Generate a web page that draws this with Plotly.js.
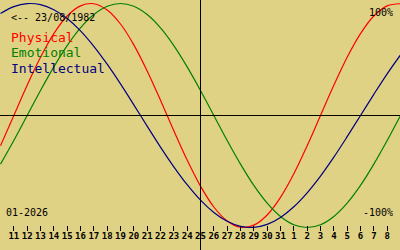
<!DOCTYPE html>
<html>
<head>
<meta charset="utf-8">
<script src="https://cdn.plot.ly/plotly-3.0.1.min.js"></script>
<style>
html,body{margin:0;padding:0;background:#e0d285;}
#chart{width:400px;height:250px;}
</style>
</head>
<body>
<div id="chart"></div>
<script>
// Day index: 10..31 = January 2026, 32..40 = 1..9 February 2026
var days = [10,11,12,13,14,15,16,17,18,19,20,21,22,23,24,25,26,27,28,29,30,31,32,33,34,35,36,37,38,39,40];
var physical = [-0.270,0,0.270,0.520,0.731,0.888,0.979,0.998,0.942,0.817,0.631,0.398,0.136,-0.136,-0.398,-0.631,-0.817,-0.942,-0.998,-0.979,-0.888,-0.731,-0.520,-0.270,0,0.270,0.520,0.731,0.888,0.979,0.998];
var emotional = [-0.434,-0.223,0,0.223,0.434,0.624,0.782,0.901,0.975,1,0.975,0.901,0.782,0.624,0.434,0.223,0,-0.223,-0.434,-0.624,-0.782,-0.901,-0.975,-1,-0.975,-0.901,-0.782,-0.624,-0.434,-0.223,0];
var intellectual = [0.910,0.972,0.999,0.990,0.945,0.866,0.756,0.618,0.458,0.282,0.095,-0.095,-0.282,-0.458,-0.618,-0.756,-0.866,-0.945,-0.990,-0.999,-0.972,-0.910,-0.815,-0.690,-0.541,-0.372,-0.189,0,0.189,0.372,0.541];
var tickDays = [11,12,13,14,15,16,17,18,19,20,21,22,23,24,25,26,27,28,29,30,31,32,33,34,35,36,37,38,39];
var tickLabels = ['11','12','13','14','15','16','17','18','19','20','21','22','23','24','25','26','27','28','29','30','31','1','2','3','4','5','6','7','8'];
var seriesNames = ['Physical','Emotional','Intellectual'];
var seriesColors = ['#ff0000','#008000','#000080'];
var birthText = '<-- 23/08/1982';
var monthText = '01-2026';
var topText = '100%';
var bottomText = '-100%';
var today = 25;

var W = 400, H = 250;
var bg = '#e0d285';
var mono = 'DejaVu Sans Mono, monospace';
function py(p){ return 1 - p / H; }
function px(p){ return p / W; }
var dayPx = W / 30;
var xShift = 0.5 / dayPx;

var seriesData = [physical, emotional, intellectual];
var traces = seriesData.map(function(vals, i){
  return {x: days, y: vals, type: 'scatter', mode: 'lines', name: seriesNames[i],
    line: {color: seriesColors[i], width: 1.2, shape: 'spline', smoothing: 1}, hoverinfo: 'skip'};
});

var legendY = [37.5, 53, 68];
var annotations = seriesNames.map(function(n, i){
  return {text: n, xref: 'paper', yref: 'paper', x: px(9), y: py(legendY[i]),
    xanchor: 'left', yanchor: 'middle', showarrow: false,
    font: {family: mono, size: 13, color: seriesColors[i]}};
});
annotations.push({text: birthText.replace('<','&lt;'), xref: 'paper', yref: 'paper', x: px(9), y: py(17),
  xanchor: 'left', yanchor: 'middle', showarrow: false, font: {family: mono, size: 10, color: '#000'}});
annotations.push({text: monthText, xref: 'paper', yref: 'paper', x: px(4), y: py(212),
  xanchor: 'left', yanchor: 'middle', showarrow: false, font: {family: mono, size: 10, color: '#000'}});
annotations.push({text: topText, xref: 'paper', yref: 'paper', x: px(395), y: py(12.5),
  xanchor: 'right', yanchor: 'middle', showarrow: false, font: {family: mono, size: 10, color: '#000'}});
annotations.push({text: bottomText, xref: 'paper', yref: 'paper', x: px(395), y: py(212.5),
  xanchor: 'right', yanchor: 'middle', showarrow: false, font: {family: mono, size: 10, color: '#000'}});

var layout = {
  width: W, height: H,
  margin: {l: 0, r: 0, t: 0, b: 0, pad: 0},
  paper_bgcolor: bg, plot_bgcolor: bg,
  showlegend: false,
  xaxis: {range: [10 - xShift, 40 - xShift], anchor: 'free', position: 1 - 225 / H,
    showgrid: false, zeroline: false, showline: false,
    ticks: 'outside', ticklen: 5, tickwidth: 1, tickcolor: '#000',
    tickmode: 'array', tickvals: tickDays, ticktext: tickLabels, ticklabelstandoff: -3,
    tickfont: {family: mono, size: 9, color: '#000', weight: 'bold'}, fixedrange: true},
  yaxis: {range: [(115.5 - H) / 112, 115.5 / 112], visible: false, showgrid: false, zeroline: false, fixedrange: true},
  shapes: [
    {type: 'line', xref: 'paper', yref: 'y', x0: 0, x1: 1, y0: 0, y1: 0, line: {color: '#000', width: 1}},
    {type: 'line', xref: 'x', yref: 'paper', x0: today, x1: today, y0: 0, y1: 1, line: {color: '#000', width: 1}}
  ],
  annotations: annotations
};

Plotly.newPlot('chart', traces, layout, {staticPlot: true, displayModeBar: false});
</script>
</body>
</html>
